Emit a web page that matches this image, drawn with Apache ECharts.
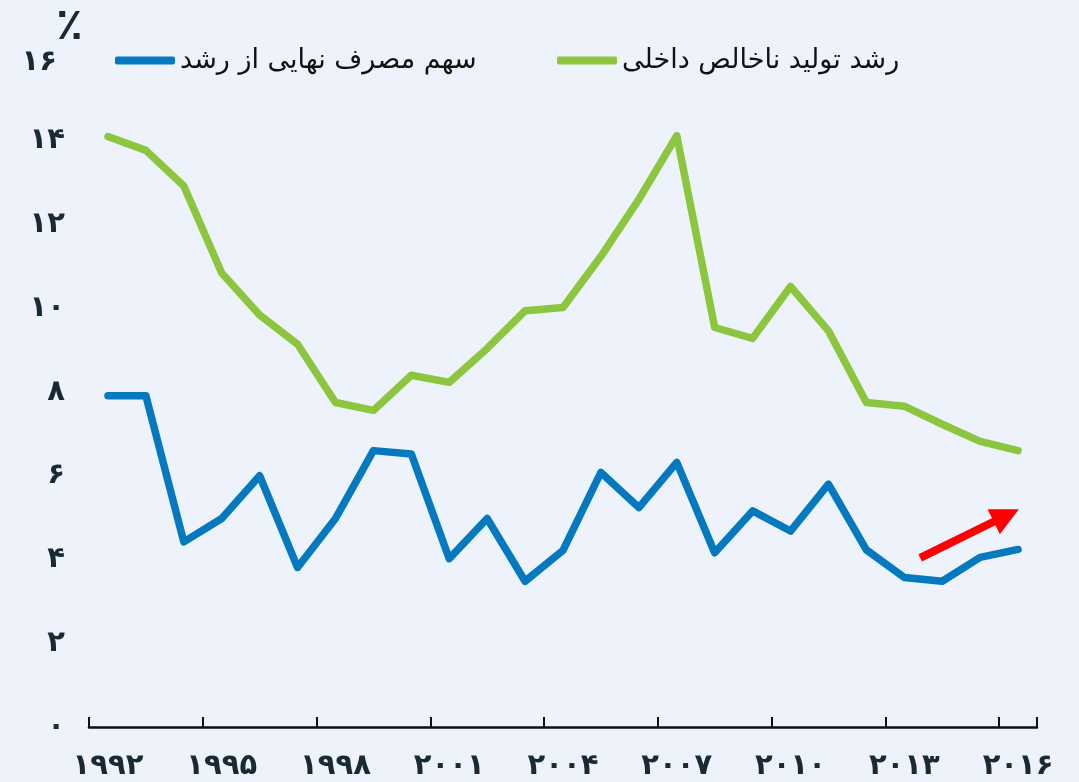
<!DOCTYPE html>
<html>
<head>
<meta charset="utf-8">
<script src="https://cdn.jsdelivr.net/npm/echarts@6/dist/echarts.min.js"></script>
<style>
html,body{margin:0;padding:0;background:#EEF3FB;}
#c{width:1079px;height:782px;}
</style>
</head>
<body>
<div id="c"></div>
<script>
var years = ['1992','1993','1994','1995','1996','1997','1998','1999','2000','2001','2002','2003','2004','2005','2006','2007','2008','2009','2010','2011','2012','2013','2014','2015','2016'];
var gdpGrowth = [14.1,13.77,12.92,10.84,9.84,9.14,7.75,7.56,8.4,8.23,9.04,9.94,10.02,11.24,12.6,14.12,9.54,9.28,10.52,9.46,7.75,7.66,7.23,6.82,6.6];
var consumptionShare = [7.91,7.91,4.42,4.98,6.0,3.81,4.98,6.6,6.52,4.02,4.98,3.48,4.22,6.08,5.24,6.32,4.16,5.16,4.68,5.8,4.23,3.57,3.48,4.05,4.24];
var seriesNames = ['سهم مصرف نهایی از رشد', 'رشد تولید ناخالص داخلی'];
var yTicks = [0, 16, 2];
// arrow annotation, in (category index, value) units
var arrowStart = [21.42, 4.04];
var arrowEnd = [23.69, 5.05];

var faDigits = ['۰','۱','۲','۳','۴','۵','۶','۷','۸','۹'];
function toFa(s){ return String(s).replace(/[0-9]/g, function(d){ return faDigits[+d]; }); }

var FONT = "'DejaVu Sans', sans-serif";
var chart = echarts.init(document.getElementById('c'), null, {renderer:'canvas'});
chart.setOption({
  backgroundColor: '#EEF3FB',
  animation: false,
  grid: {left: 89, right: 42, top: 57, bottom: 55, containLabel: false},
  legend: [
    {data:[seriesNames[0]], left: 110, top: 42, icon: 'roundRect', itemWidth: 60, itemHeight: 8, itemGap: 6,
     textStyle:{fontFamily: FONT, fontSize: 27, color:'#111', padding:[4,0,0,0]}},
    {data:[seriesNames[1]], left: 552, top: 42, icon: 'roundRect', itemWidth: 60, itemHeight: 8,
     textStyle:{fontFamily: FONT, fontSize: 27, color:'#111', padding:[4,0,0,0]}}
  ],
  xAxis: [{
    type: 'category', data: years, boundaryGap: true,
    axisLine: {show: true, lineStyle: {color:'#111', width: 2.5}},
    axisTick: {show: true, inside: true, length: 10, interval: 2, lineStyle:{color:'#111', width: 2}},
    axisLabel: {interval: 2, margin: 25, fontFamily: FONT, fontWeight: 'bold', fontSize: 29, color:'#1a2a33',
      formatter: function(v){ return toFa(v); }},
    splitLine: {show: false}
  },{
    type: 'value', min: -0.5, max: 24.5, show: false
  }],
  yAxis: {
    type: 'value', min: yTicks[0], max: yTicks[1], interval: yTicks[2],
    axisLine: {show:false}, axisTick: {show:false}, splitLine: {show:false},
    axisLabel: {margin: 24, fontFamily: FONT, fontWeight: 'bold', fontSize: 29, color:'#1a2a33',
      formatter: function(v){ return v === 16 ? '{s|' + toFa(v) + '}' : toFa(v); },
      rich: {s: {fontFamily: FONT, fontWeight: 'bold', fontSize: 29, color:'#1a2a33', padding:[10,8,0,0]}}}
  },
  graphic: [{
    type: 'text', left: 56, top: 6,
    style: {text: '٪', font: "bold 44px 'DejaVu Sans'", fill: '#1a2a33'}
  }],
  series: [
    {name: seriesNames[0], type: 'line', data: consumptionShare, symbol: 'none',
     lineStyle: {color:'#0479BF', width: 7.5, cap:'round', join:'round'}, itemStyle:{color:'#0479BF'}},
    {name: seriesNames[1], type: 'line', data: gdpGrowth, symbol: 'none',
     lineStyle: {color:'#8CC63F', width: 7.5, cap:'round', join:'round'}, itemStyle:{color:'#8CC63F'}},
    {type: 'lines', coordinateSystem: 'cartesian2d', xAxisIndex: 1, yAxisIndex: 0,
     symbol: ['none','triangle'], symbolSize: 28,
     lineStyle: {color:'#FF0000', width: 8, opacity: 1},
     data: [{coords: [arrowStart, arrowEnd]}]}
  ]
});
</script>
</body>
</html>
